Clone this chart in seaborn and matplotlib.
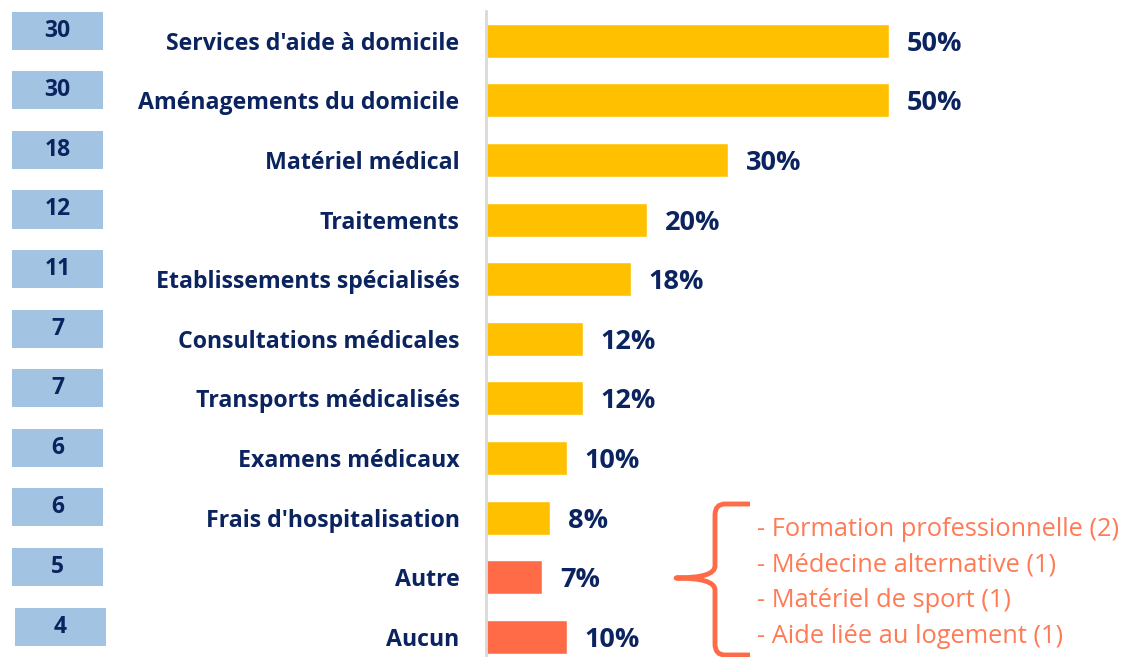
import matplotlib
matplotlib.use("Agg")
import matplotlib.pyplot as plt
import seaborn as sns
import pandas as pd
from matplotlib.patches import Rectangle, PathPatch
from matplotlib.path import Path
from matplotlib.transforms import blended_transform_factory

categories = ["Services d'aide à domicile", "Aménagements du domicile", "Matériel médical",
              "Traitements", "Etablissements spécialisés", "Consultations médicales",
              "Transports médicalisés", "Examens médicaux", "Frais d'hospitalisation",
              "Autre", "Aucun"]
percent = [50, 50, 30, 20, 18, 12, 12, 10, 8, 7, 10]
counts = [30, 30, 18, 12, 11, 7, 7, 6, 6, 5, 4]
autre_details = ["- Formation professionnelle (2)", "- Médecine alternative (1)",
                 "- Matériel de sport (1)", "- Aide liée au logement (1)"]

GOLD = "#FFC000"
CORAL = "#FF6B47"
NAVY = "#0B2460"
BOXC = "#A2C4E2"
bar_colors = [GOLD] * 9 + [CORAL] * 2

sns.set_theme(style="white")
plt.rcParams['font.family'] = ['Open Sans', 'DejaVu Sans']

W, H = 1126, 657
fig = plt.figure(figsize=(W / 100, H / 100), dpi=100)
ax = fig.add_axes([486 / W, 0, (1100 - 486) / W, 1 - 11 / H])

df = pd.DataFrame({"cat": categories, "pct": percent})
sns.barplot(data=df, x="pct", y="cat", hue="cat", palette=bar_colors,
            width=0.57, legend=False, ax=ax, saturation=1)

ax.set_xlim(0, (1100 - 486) / 8.06)
ax.set_ylim(10.34, -0.5)
ax.set_xlabel("")
ax.set_ylabel("")
ax.set_xticks([])
ax.set_yticks(range(len(categories)))
ax.set_yticklabels(categories, fontsize=16.7, fontweight="bold", color=NAVY)
ax.tick_params(axis="y", length=0, pad=19)
for s in ["top", "right", "bottom"]:
    ax.spines[s].set_visible(False)
ax.spines["left"].set_color("#D9D9D9")
ax.spines["left"].set_linewidth(2)

for i, p in enumerate(percent):
    ax.text(p + 2.2, i + 0.05, f"{p}%", va="center", ha="left",
            fontsize=19.5, fontweight="bold", color=NAVY)

# count boxes on the left
tr = blended_transform_factory(fig.transFigure, ax.transData)
box_h = 0.64
for i, c in enumerate(counts):
    x0 = (15 if i == len(counts) - 1 else 12) / W
    yc = i - 0.17
    ax.add_patch(Rectangle((x0, yc - box_h / 2), 91 / W, box_h, transform=tr,
                           facecolor=BOXC, edgecolor="none", clip_on=False))
    ax.text(x0 + 45.5 / W, yc, str(c), transform=tr, ha="center", va="center",
            fontsize=16.5, fontweight="bold", color=NAVY, clip_on=False)

# brace for "Autre" details
def fx(px):
    return px / W

def fy(py):
    return 1 - py / H

verts = [
    (fx(750), fy(504)), (fx(725), fy(504)),
    (fx(715), fy(504)), (fx(715), fy(515)),
    (fx(715), fy(566)),
    (fx(715), fy(578)), (fx(676), fy(578)),
    (fx(715), fy(578)), (fx(715), fy(590)),
    (fx(715), fy(644)),
    (fx(715), fy(655)), (fx(725), fy(655)),
    (fx(750), fy(655)),
]
codes = [Path.MOVETO, Path.LINETO,
         Path.CURVE3, Path.CURVE3,
         Path.LINETO,
         Path.CURVE3, Path.CURVE3,
         Path.CURVE3, Path.CURVE3,
         Path.LINETO,
         Path.CURVE3, Path.CURVE3,
         Path.LINETO]
fig.patches.append(PathPatch(Path(verts, codes), transform=fig.transFigure,
                             facecolor="none", edgecolor=CORAL, linewidth=3.5,
                             capstyle="butt", joinstyle="round"))

for k, line in enumerate(autre_details):
    fig.text(fx(757), fy(529 + 35.7 * k), line, ha="left", va="center",
             fontsize=18.3, color="#FF7A55")

fig.savefig("out.png", dpi=100)
